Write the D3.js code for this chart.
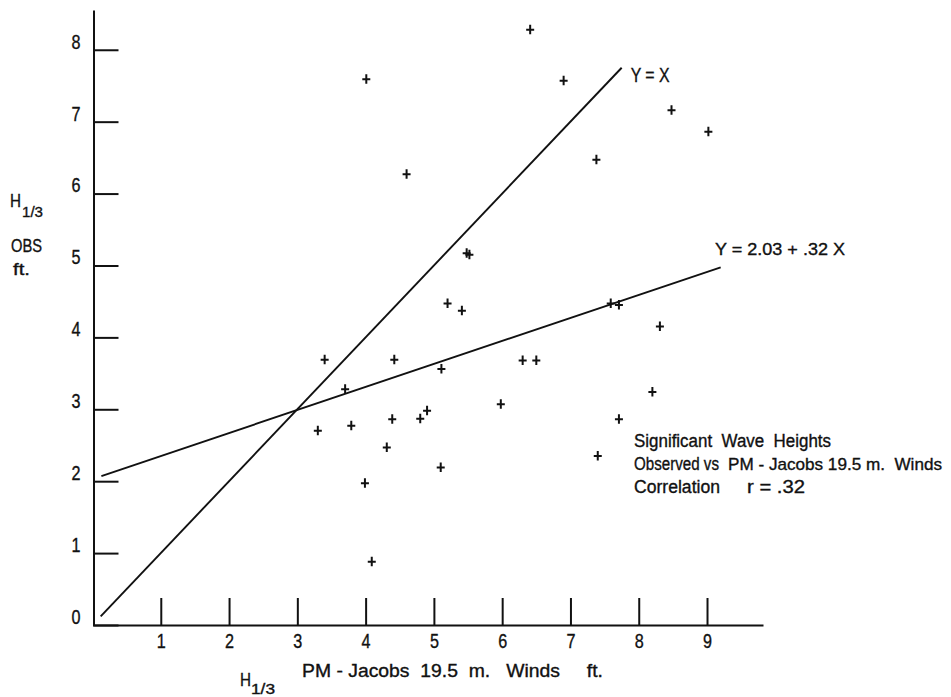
<!DOCTYPE html>
<html>
<head>
<meta charset="utf-8">
<script src="https://cdn.jsdelivr.net/npm/d3@7/dist/d3.min.js"></script>
<style>
  html, body { margin: 0; padding: 0; background: #fff; }
  svg { display: block; }
  text { font-family: "Liberation Sans", "DejaVu Sans", sans-serif; fill: #111; stroke: #111; stroke-width: 0.35px; }
</style>
</head>
<body>
<svg id="chart" width="951" height="697"></svg>
<script>
// Significant wave heights: hindcast (PM - Jacobs, 19.5 m winds) vs observed, in feet
const pmJacobs = [6.41, 4.01, 6.90, 4.60, 7.38, 8.48, 9.02, 5.48, 5.52, 5.20, 5.41,
                  7.59, 7.71, 3.40, 4.42, 5.11, 6.30, 6.50, 3.70, 5.98, 3.30, 3.79,
                  4.39, 4.80, 4.90, 7.71, 4.31, 7.40, 5.10, 8.31, 8.20, 3.99, 4.09];
const observed = [8.28, 7.59, 7.57, 6.27, 6.47, 7.16, 6.86, 5.17, 5.15, 4.47, 4.37,
                  4.47, 4.45, 3.69, 3.69, 3.56, 3.68, 3.68, 3.28, 3.07, 2.70, 2.77,
                  2.86, 2.87, 2.98, 2.86, 2.47, 2.35, 2.19, 4.15, 3.24, 1.97, 0.88];

const xTicks = [1, 2, 3, 4, 5, 6, 7, 8, 9];
const yTicks = [0, 1, 2, 3, 4, 5, 6, 7, 8];

// Regression fit Y = 2.03 + .32 X, and the identity line Y = X
const fitIntercept = 2.03;
const fitSlope = 0.32;
const fitRange = [0.13, 9.2];
const identityRange = [0.12, 7.75];

const svg = d3.select("#chart");

const x = d3.scaleLinear().domain([0, 9.82]).range([92.5, 763]);
const y = d3.scaleLinear().domain([0, 8.553]).range([625, 10]);

// narrow typewriter-like lettering: squeeze a text to a given width
function fit(sel, w) {
  return sel.attr("textLength", w).attr("lengthAdjust", "spacingAndGlyphs");
}

// x axis: ticks rise from the baseline, labels below
const xAxis = d3.axisBottom(x)
  .tickValues(xTicks)
  .tickSizeInner(-27)
  .tickSizeOuter(0)
  .tickPadding(9)
  .tickFormat(d3.format("d"));

const gx = svg.append("g")
  .attr("transform", `translate(0,${y(0)})`)
  .call(xAxis);
gx.select(".domain").attr("stroke-width", 2).attr("stroke", "#111");
gx.selectAll(".tick line").attr("stroke-width", 2).attr("stroke", "#111");
gx.selectAll(".tick text")
  .style("font-size", "20px")
  .attr("fill", "#111")
  .attr("font-family", null)
  .attr("textLength", 9)
  .attr("lengthAdjust", "spacingAndGlyphs");

// y axis: ticks point into the plot, labels sit a little above each tick
const yAxis = d3.axisLeft(y)
  .tickValues(yTicks)
  .tickSizeInner(-25)
  .tickSizeOuter(0)
  .tickPadding(13)
  .tickFormat(d3.format("d"));

const gy = svg.append("g")
  .attr("transform", `translate(${x(0) + 1},0)`)
  .call(yAxis);
gy.select(".domain").attr("stroke-width", 2).attr("stroke", "#111");
gy.selectAll(".tick line").attr("stroke-width", 2).attr("stroke", "#111");
gy.selectAll(".tick text")
  .style("font-size", "20px")
  .attr("fill", "#111")
  .attr("dy", "-0.08em")
  .attr("font-family", null)
  .attr("textLength", 9)
  .attr("lengthAdjust", "spacingAndGlyphs");

// reference lines
const line = d3.line().x(d => x(d[0])).y(d => y(d[1]));

svg.append("path")
  .datum(identityRange.map(v => [v, v]))
  .attr("d", line)
  .attr("fill", "none")
  .attr("stroke", "#111")
  .attr("stroke-width", 1.9);

svg.append("path")
  .datum(fitRange.map(v => [v, fitIntercept + fitSlope * v]))
  .attr("d", line)
  .attr("fill", "none")
  .attr("stroke", "#111")
  .attr("stroke-width", 1.9);

// observations drawn as small plus marks
const points = pmJacobs.map((v, i) => [v, observed[i]]);
svg.append("g")
  .selectAll("path")
  .data(points)
  .join("path")
  .attr("transform", d => `translate(${x(d[0])},${y(d[1])})`)
  .attr("d", "M-4,0H4M0,-5V4.5")
  .attr("fill", "none")
  .attr("stroke", "#111")
  .attr("stroke-width", 2);

// line labels
const idEnd = [identityRange[1], identityRange[1]];
fit(svg.append("text")
  .attr("x", x(idEnd[0]) + 9)
  .attr("y", y(idEnd[1]) + 14)
  .style("font-size", "20px")
  .attr("xml:space", "preserve")
  .text("Y = X"), 39);

fit(svg.append("text")
  .attr("x", 715)
  .attr("y", 255)
  .style("font-size", "17px")
  .attr("xml:space", "preserve")
  .text("Y = 2.03 + .32 X"), 130);

// caption block: each piece is [text, x, line, width, font size]
const caption = [
  ["Significant  Wave  Heights", 634, 0, 197, 18],
  ["Observed vs", 634, 1, 85, 18],
  ["PM - Jacobs 19.5 m.  Winds", 728, 1, 214, 17],
  ["Correlation", 634, 2, 86, 18],
  ["r = .32", 747, 2, 58, 18]
];
svg.append("g")
  .selectAll("text")
  .data(caption)
  .join("text")
  .attr("x", d => d[1])
  .attr("y", d => 447 + d[2] * 23)
  .style("font-size", d => d[4] + "px")
  .attr("xml:space", "preserve")
  .attr("textLength", d => d[3])
  .attr("lengthAdjust", "spacingAndGlyphs")
  .text(d => d[0]);

// y axis title
const yTitle = svg.append("g");
fit(yTitle.append("text").attr("x", 10).attr("y", 207).style("font-size", "19px").text("H"), 11);
fit(yTitle.append("text").attr("x", 22).attr("y", 217).style("font-size", "15px").text("1/3"), 21);
fit(yTitle.append("text").attr("x", 11).attr("y", 252).style("font-size", "18px").text("OBS"), 31);
fit(yTitle.append("text").attr("x", 13).attr("y", 275).style("font-size", "17px").text("ft."), 17);

// x axis title
const xTitle = svg.append("g");
fit(xTitle.append("text").attr("x", 240).attr("y", 686).style("font-size", "19px").text("H"), 11);
fit(xTitle.append("text").attr("x", 251).attr("y", 694).style("font-size", "14px").text("1/3"), 24);
fit(xTitle.append("text")
  .attr("x", 302)
  .attr("y", 677)
  .style("font-size", "18px")
  .attr("xml:space", "preserve")
  .text("PM - Jacobs  19.5  m.   Winds     ft."), 301);
</script>
</body>
</html>
